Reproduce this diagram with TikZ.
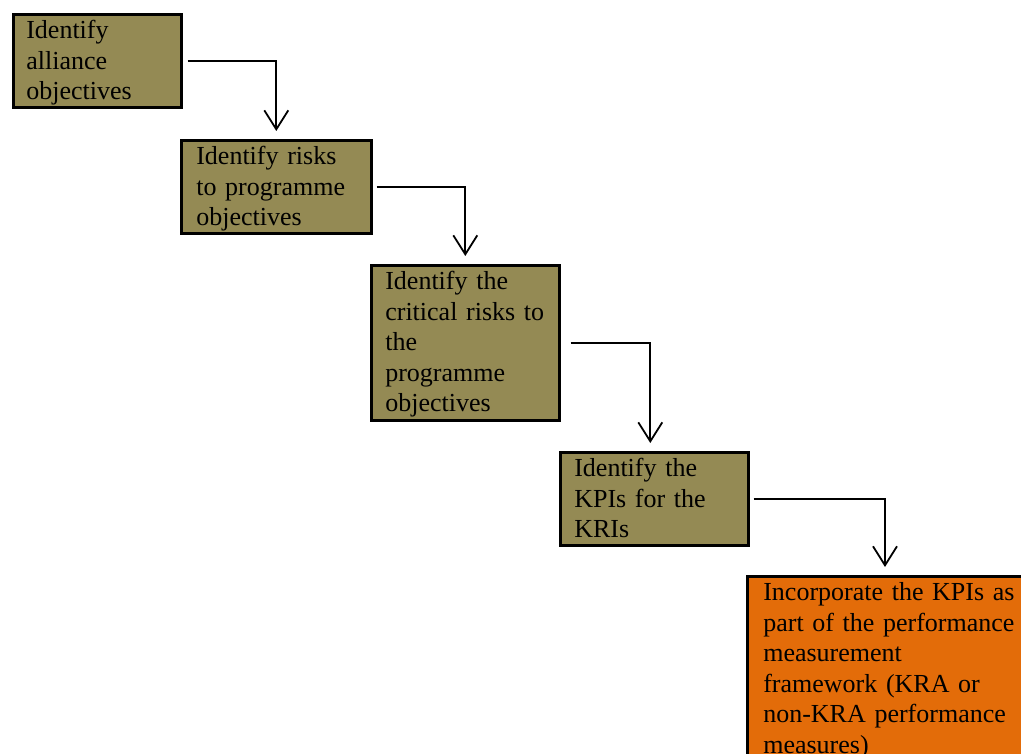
\documentclass[tikz,border=0pt]{standalone}
\usepackage{fontspec}
\setmainfont{Liberation Serif}
\usetikzlibrary{arrows.meta}
\definecolor{olivebox}{HTML}{948A54}
\definecolor{orangebox}{HTML}{E36C09}
\begin{document}
\begin{tikzpicture}[x=1pt,y=-1pt,
  stepbox/.style={draw=black, line width=2.6pt, fill=olivebox, anchor=north west,
    align=left, inner ysep=6pt, text height=18.5pt,
    font=\fontsize{26}{30.5}\selectfont},
  link/.style={line width=1.8pt,
    -{Straight Barb[length=19pt,width=24pt,line width=1.8pt]},
    shorten >=8pt}]
\useasboundingbox (0,0) rectangle (1021,754);

% process steps
\node[stepbox, inner xsep=13pt, text width=142pt, text depth=62.5pt] (b1) at (12,13)
  {Identify\\alliance\\objectives};
\node[stepbox, inner xsep=15pt, text width=160pt, text depth=62.5pt] (b2) at (180,139)
  {Identify risks\\to programme\\objectives};
\node[stepbox, inner xsep=14pt, text width=160pt, text depth=124.5pt] (b3) at (370,264)
  {Identify the\\critical risks to\\the\\programme\\objectives};
\node[stepbox, inner xsep=14pt, text width=160pt, text depth=62.5pt] (b4) at (559,451)
  {Identify the\\KPIs for the\\KRIs};
\node[stepbox, fill=orangebox, inner xsep=16pt, text width=262pt, text depth=170pt] (b5) at (746,575)
  {Incorporate the KPIs as\\part of the performance\\measurement\\framework (KRA or\\non-KRA performance\\measures)};

% connectors between steps
\draw[link] ([xshift=5pt]b1.east) -| (b2.north);
\draw[link] ([xshift=4pt]b2.east) -| (b3.north);
\draw[link] ([xshift=10pt]b3.east) -| ([xshift=-4pt]b4.north);
\draw[link] ([xshift=4pt]b4.east) -| ([xshift=139pt]b5.north west);
\end{tikzpicture}
\end{document}
